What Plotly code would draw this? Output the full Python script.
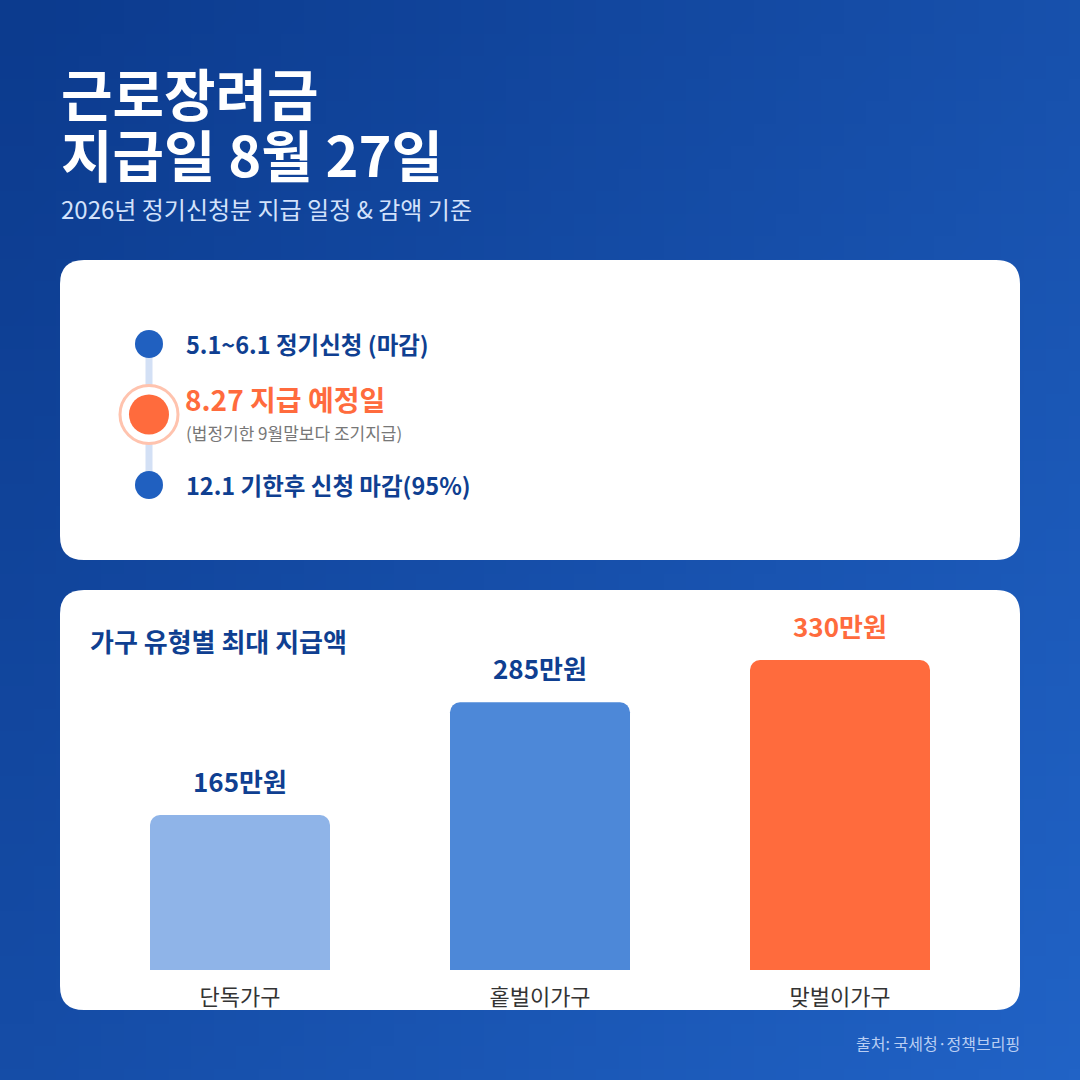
import base64
import struct
import zlib
import plotly.graph_objects as go

# data
households = ["단독가구", "홑벌이가구", "맞벌이가구"]
max_amount = [165, 285, 330]  # 만원
bar_colors = ["#8fb4e8", "#4d88d8", "#ff6b3d"]
label_colors = ["#0f3f91", "#0f3f91", "#ff6b3d"]

steps = ["5.1~6.1 정기신청 (마감)", "8.27 지급 예정일", "12.1 기한후 신청 마감(95%)"]
step_notes = ["", "(법정기한 9월말보다 조기지급)", ""]
step_index = [0, 1, 2]
highlight = 1

title_lines = ["근로장려금", "지급일 8월 27일"]

W = H = 1080
FONT = "Noto Sans CJK KR"
NAVY = "#0f3f91"
ORANGE = "#ff6b3d"


def px(x, y):
    # pixel -> paper coords
    return x / W, 1 - y / H


def gradient_png(w, h, c0, c1):
    raw = b""
    for j in range(h):
        row = b"\x00"
        for i in range(w):
            t = (i / (w - 1) * 0.55 + j / (h - 1) * 0.45)
            row += bytes(int(c0[k] + (c1[k] - c0[k]) * t) for k in range(3))
        raw += row

    def chunk(tag, data):
        return (struct.pack(">I", len(data)) + tag + data
                + struct.pack(">I", zlib.crc32(tag + data) & 0xffffffff))

    png = (b"\x89PNG\r\n\x1a\n"
           + chunk(b"IHDR", struct.pack(">IIBBBBB", w, h, 8, 2, 0, 0, 0))
           + chunk(b"IDAT", zlib.compress(raw))
           + chunk(b"IEND", b""))
    return "data:image/png;base64," + base64.b64encode(png).decode()


def rounded_rect(x0, y0, x1, y1, r):
    a, b = px(x0, y0), px(x1, y1)
    rx, ry = r / W, r / H
    L, T, R, B = a[0], a[1], b[0], b[1]
    return (f"M{L+rx},{T} L{R-rx},{T} Q{R},{T} {R},{T-ry} "
            f"L{R},{B+ry} Q{R},{B} {R-rx},{B} L{L+rx},{B} "
            f"Q{L},{B} {L},{B+ry} L{L},{T-ry} Q{L},{T} {L+rx},{T} Z")


fig = go.Figure()

# bar chart
fig.add_trace(go.Bar(
    x=households, y=max_amount,
    marker=dict(color=bar_colors, line=dict(width=0)),
    hoverinfo="skip", xaxis="x", yaxis="y",
))

# timeline line + dots
fig.add_trace(go.Scatter(
    x=[149] * len(step_index), y=step_index, mode="lines",
    line=dict(color="#d3e0f5", width=7), xaxis="x2", yaxis="y2",
    hoverinfo="skip", cliponaxis=False,
))
fig.add_trace(go.Scatter(
    x=[149], y=[step_index[highlight]], mode="markers",
    marker=dict(size=58, color="white", opacity=1,
                line=dict(color="#ffc3ae", width=3)),
    xaxis="x2", yaxis="y2", hoverinfo="skip", cliponaxis=False,
))
fig.add_trace(go.Scatter(
    x=[149] * len(step_index), y=step_index, mode="markers",
    marker=dict(size=[40 if i == highlight else 28 for i in step_index],
                color=[ORANGE if i == highlight else "#2060c0" for i in step_index],
                opacity=1, line=dict(width=0)),
    xaxis="x2", yaxis="y2", hoverinfo="skip", cliponaxis=False,
))

annotations = []

# titles
for line, ty in zip(title_lines, [92, 153]):
    annotations.append(dict(text=line, x=px(59, ty)[0], y=px(59, ty)[1],
                            xanchor="left", yanchor="middle",
                            font=dict(family=FONT, size=56, color="white", weight=700)))
annotations += [
    dict(text="2026년 정기신청분 지급 일정 & 감액 기준", x=px(59, 208)[0], y=px(59, 208)[1],
         xanchor="left", yanchor="middle",
         font=dict(family=FONT, size=24, color="#d3e2fb")),
    dict(text="가구 유형별 최대 지급액", x=px(88, 640)[0], y=px(88, 640)[1],
         xanchor="left", yanchor="middle",
         font=dict(family=FONT, size=26, color=NAVY, weight=700)),
    dict(text="출처: 국세청·정책브리핑", x=px(1022, 1043)[0], y=px(1022, 1043)[1],
         xanchor="right", yanchor="middle",
         font=dict(family=FONT, size=16, color="#b9cef3")),
]

# timeline labels
for i, s, n in zip(step_index, steps, step_notes):
    if i == highlight:
        annotations.append(dict(text=s, x=183, y=i, xref="x2", yref="y2", xanchor="left",
                                yanchor="middle", yshift=16, showarrow=False,
                                font=dict(family=FONT, size=28, color=ORANGE, weight=700)))
        annotations.append(dict(text=n, x=184, y=i, xref="x2", yref="y2", xanchor="left",
                                yanchor="middle", yshift=-18, showarrow=False,
                                font=dict(family=FONT, size=17, color="#777777")))
    else:
        annotations.append(dict(text=s, x=184, y=i, xref="x2", yref="y2", xanchor="left",
                                yanchor="middle", showarrow=False,
                                font=dict(family=FONT, size=23.5, color=NAVY, weight=700)))

# bar value labels
for h, v, c in zip(households, max_amount, label_colors):
    annotations.append(dict(text=f"{v}만원", x=h, y=v, xref="x", yref="y",
                            yshift=35, yanchor="middle", showarrow=False,
                            font=dict(family=FONT, size=26, color=c, weight=700)))

for a in annotations:
    a.setdefault("xref", "paper")
    a.setdefault("yref", "paper")
    a.setdefault("showarrow", False)

shapes = [
    dict(type="path", path=rounded_rect(60, 260, 1020, 560, 24), xref="paper", yref="paper",
         fillcolor="white", line=dict(width=0), layer="below"),
    dict(type="path", path=rounded_rect(60, 590, 1020, 1010, 24), xref="paper", yref="paper",
         fillcolor="white", line=dict(width=0), layer="below"),
]

bg = gradient_png(48, 48, (12, 59, 142), (33, 99, 198))

fig.update_layout(
    width=W, height=H,
    margin=dict(l=0, r=0, t=0, b=0),
    paper_bgcolor="#1650ab",
    plot_bgcolor="rgba(0,0,0,0)",
    showlegend=False,
    bargap=0.4,
    barcornerradius=10,
    images=[dict(source=bg, xref="paper", yref="paper", x=0, y=1, sizex=1, sizey=1,
                 sizing="stretch", layer="below", xanchor="left", yanchor="top")],
    shapes=shapes,
    annotations=annotations,
    xaxis=dict(domain=[90 / W, 990 / W], range=[-0.5, 2.5], showgrid=False, zeroline=False,
               showline=False, ticks="", ticklabelstandoff=12,
               tickfont=dict(family=FONT, size=22, color="#333333"), fixedrange=True),
    yaxis=dict(domain=[px(0, 970)[1], px(0, 660)[1]], range=[0, 330], visible=False,
               fixedrange=True),
    xaxis2=dict(domain=[0, 1], range=[0, W], visible=False, anchor="y2", fixedrange=True),
    yaxis2=dict(domain=[px(0, 485)[1], px(0, 344)[1]], range=[2, 0], visible=False,
                anchor="x2", fixedrange=True),
    font=dict(family=FONT),
)

fig.write_html("out.html", config={"displayModeBar": False},
               post_script="document.body.style.margin='0';")
